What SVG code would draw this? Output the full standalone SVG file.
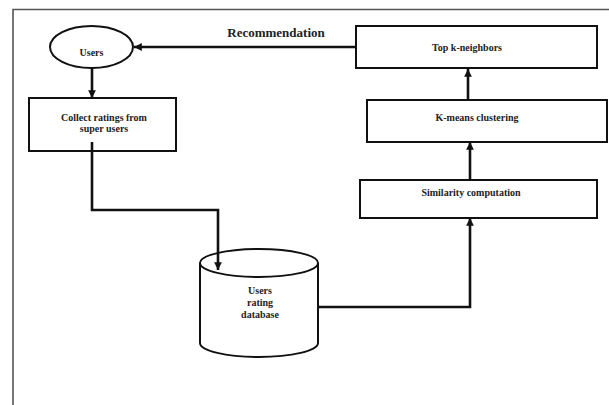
<svg xmlns="http://www.w3.org/2000/svg" width="609" height="405" viewBox="0 0 609 405">
<style>
.box{fill:#fff;stroke:#111;stroke-width:2}
.lbl{font-family:"Liberation Serif",serif;font-weight:bold;font-size:10px;fill:#222;text-anchor:middle}
.con{fill:none;stroke:#111;stroke-width:2.6}
</style>
<defs>
<marker id="ah" viewBox="0 0 10 10" refX="10" refY="5" markerWidth="3" markerHeight="3" orient="auto" markerUnits="strokeWidth">
<path d="M0,0 L10,5 L0,10 z" fill="#111"/>
</marker>
</defs>
<rect width="609" height="405" fill="#fff"/>
<path d="M13,405 V9.5 H609" fill="none" stroke="#555" stroke-width="1.6"/>
<g id="users">
<ellipse class="box" cx="91.5" cy="47" rx="41.5" ry="21"/>
<text class="lbl" x="91.5" y="56">Users</text>
</g>
<g id="collect">
<rect class="box" x="29" y="98" width="147" height="53"/>
<text class="lbl" x="104" y="121">Collect ratings from</text>
<text class="lbl" x="104" y="132">super users</text>
</g>
<g id="topk">
<rect class="box" x="356" y="26" width="241" height="42"/>
<text class="lbl" x="467" y="51">Top k-neighbors</text>
</g>
<g id="kmeans">
<rect class="box" x="367" y="100" width="240" height="42"/>
<text class="lbl" x="477" y="121">K-means clustering</text>
</g>
<g id="similarity">
<rect class="box" x="360" y="180" width="237" height="38"/>
<text class="lbl" x="471" y="196">Similarity computation</text>
</g>
<g id="database">
<path class="box" d="M200,263 V343 A59,14 0 0 0 318,343 V263"/>
<ellipse class="box" cx="259" cy="263" rx="59" ry="14"/>
<text class="lbl" x="260" y="294">Users</text>
<text class="lbl" x="260" y="306">rating</text>
<text class="lbl" x="260" y="318">database</text>
</g>
<g id="connectors">
<path class="con" d="M355,47 H134" marker-end="url(#ah)"/>
<text x="276" y="37" style="font-family:'Liberation Serif',serif;font-weight:bold;font-size:13px;fill:#222;text-anchor:middle">Recommendation</text>
<path class="con" d="M92,68 V98" marker-end="url(#ah)"/>
<path class="con" d="M92,142 V210 H218 V270" marker-end="url(#ah)"/>
<path class="con" d="M318,307 H470 V218" marker-end="url(#ah)"/>
<path class="con" d="M470,180 V142" marker-end="url(#ah)"/>
<path class="con" d="M468,100 V69" marker-end="url(#ah)"/>
</g>
</svg>
